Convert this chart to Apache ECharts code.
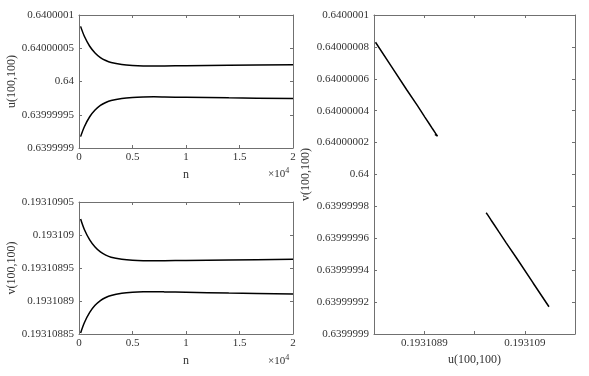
<!DOCTYPE html>
<html lang="en">
<head>
    <meta charset="UTF-8">
    <title>u v 收敛</title>
    <style>
        body{ margin:0; background:#fff; }
        #chart{ width:589px; height:376px; }
    </style>
</head>
<body>
<div id="chart"></div>
<script src="https://cdn.jsdelivr.net/npm/echarts@6/dist/echarts.min.js"></script>
<script>
    // 迭代步数
    var nList = [150, 500, 1000, 1500, 2000, 2500, 3000, 4000, 5000, 6000, 7000, 8000, 10000, 14000, 20000];
    // u(100,100) 上下两条
    var uUpper = [0.6400000829, 0.640000068, 0.640000053, 0.640000043, 0.640000036, 0.6400000315, 0.6400000285,
        0.6400000255, 0.640000024, 0.6400000233, 0.6400000232, 0.6400000234, 0.6400000238, 0.6400000244, 0.6400000251];
    var uLower = [0.6399999171, 0.639999932, 0.639999947, 0.639999957, 0.639999964, 0.6399999685, 0.6399999715,
        0.6399999745, 0.639999976, 0.6399999767, 0.6399999769, 0.6399999767, 0.6399999762, 0.6399999754, 0.6399999745];
    // v(100,100) 上下两条
    var vUpper = [0.1931090241, 0.1931090083, 0.1931089925, 0.1931089817, 0.1931089743, 0.1931089696, 0.1931089664,
        0.1931089633, 0.1931089616, 0.1931089609, 0.1931089608, 0.193108961, 0.1931089615, 0.1931089622, 0.1931089633];
    var vLower = [0.1931088515, 0.1931088671, 0.1931088827, 0.1931088934, 0.1931089006, 0.1931089053, 0.1931089084,
        0.1931089116, 0.1931089132, 0.1931089139, 0.193108914, 0.1931089138, 0.1931089132, 0.193108912, 0.1931089106];
    // 刻度标签
    var nTicks = ['0', '0.5', '1', '1.5', '2'];
    var uTicks = ['0.6399999', '0.63999995', '0.64', '0.64000005', '0.6400001'];
    var vTicks = ['0.19310885', '0.1931089', '0.19310895', '0.193109', '0.19310905'];
    var uTicksFine = ['0.6399999', '0.63999992', '0.63999994', '0.63999996', '0.63999998', '0.64',
        '0.64000002', '0.64000004', '0.64000006', '0.64000008', '0.6400001'];
    var phaseXTicks = ['', '0.1931089', '', '0.193109', ''];

    // 数值很小, 换算成 1e-8 的偏移量再画
    var U0 = 0.64, V0 = 0.193109, UNIT = 1e-8;
    function off(val, base) {
        return Math.round((val - base) / UNIT * 1000) / 1000;
    }

    var axisColor = '#707070';
    var textColor = '#333';
    var font = 'Liberation Serif';

    function mkAxis(grid, pos, min, max, interval, labels, extra) {
        var ax = {
            gridIndex: grid, type: 'value', position: pos,
            min: min, max: max, interval: interval,
            axisLine: {show: true, onZero: false, lineStyle: {color: axisColor, width: 1}},
            axisTick: {show: true, inside: true, length: 3, lineStyle: {color: axisColor}},
            splitLine: {show: false},
            axisLabel: {show: false}
        };
        if (labels) {
            ax.axisLabel = {
                show: true, color: textColor, fontFamily: font, fontSize: 11,
                margin: (pos == 'bottom') ? 4 : 5,
                formatter: function (v) {
                    var i = Math.round((v - min) / interval);
                    return labels[i] == undefined ? '' : labels[i];
                }
            };
        }
        if (extra) {
            for (var k in extra) ax[k] = extra[k];
        }
        return ax;
    }

    function nameStyle() {
        return {color: textColor, fontFamily: font, fontSize: 12};
    }

    function pair(xs, ys, xb, yb) {
        var out = [];
        for (var i = 0; i < xs.length; i++) {
            out.push([off(xs[i], xb), off(ys[i], yb)]);
        }
        return out;
    }
    function series(xs, ys, yb) {
        var out = [];
        for (var i = 0; i < xs.length; i++) {
            out.push([xs[i], off(ys[i], yb)]);
        }
        return out;
    }

    var myChart = echarts.init(document.getElementById('chart'), null, {renderer: 'canvas'});

    var lineStyle = {color: '#000', width: 1.5};
    function line(xi, yi, data) {
        return {type: 'line', xAxisIndex: xi, yAxisIndex: yi, data: data, showSymbol: false,
            lineStyle: lineStyle, smooth: 0.3, animation: false};
    }

    var option = {
        animation: false,
        grid: [
            {left: 79, top: 15, width: 214, height: 133},
            {left: 79, top: 202, width: 214, height: 132},
            {left: 374, top: 15, width: 201, height: 319}
        ],
        xAxis: [
            mkAxis(0, 'bottom', 0, 20000, 5000, nTicks, {name: 'n', nameLocation: 'middle', nameGap: 21, nameTextStyle: nameStyle()}),
            mkAxis(0, 'top', 0, 20000, 5000, null),
            mkAxis(1, 'bottom', 0, 20000, 5000, nTicks, {name: 'n', nameLocation: 'middle', nameGap: 21, nameTextStyle: nameStyle()}),
            mkAxis(1, 'top', 0, 20000, 5000, null),
            mkAxis(2, 'bottom', -15, 5, 5, phaseXTicks, {name: 'u(100,100)', nameLocation: 'middle', nameGap: 18, nameTextStyle: nameStyle()}),
            mkAxis(2, 'top', -15, 5, 5, null)
        ],
        yAxis: [
            mkAxis(0, 'left', -10, 10, 5, uTicks, {name: 'u(100,100)', nameLocation: 'middle', nameGap: 60, nameTextStyle: nameStyle()}),
            mkAxis(0, 'right', -10, 10, 5, null),
            mkAxis(1, 'left', -15, 5, 5, vTicks, {name: 'v(100,100)', nameLocation: 'middle', nameGap: 60, nameTextStyle: nameStyle()}),
            mkAxis(1, 'right', -15, 5, 5, null),
            mkAxis(2, 'left', -10, 10, 2, uTicksFine, {name: 'v(100,100)', nameLocation: 'middle', nameGap: 62, nameTextStyle: nameStyle()}),
            mkAxis(2, 'right', -10, 10, 2, null)
        ],
        graphic: [
            {type: 'text', left: 268, top: 167, style: {
                text: '×10{s|4}', fill: textColor, font: '11px "Liberation Serif"',
                rich: {s: {fontSize: 8, fontFamily: font, fill: textColor, verticalAlign: 'top', padding: [0, 0, 6, 0]}}}},
            {type: 'text', left: 268, top: 354, style: {
                text: '×10{s|4}', fill: textColor, font: '11px "Liberation Serif"',
                rich: {s: {fontSize: 8, fontFamily: font, fill: textColor, verticalAlign: 'top', padding: [0, 0, 6, 0]}}}}
        ],
        series: [
            line(0, 0, series(nList, uUpper, U0)),
            line(0, 0, series(nList, uLower, U0)),
            line(2, 2, series(nList, vUpper, V0)),
            line(2, 2, series(nList, vLower, V0)),
            // 相图: 横轴 v, 纵轴 u
            {type: 'line', xAxisIndex: 4, yAxisIndex: 4, data: pair(vLower, uUpper, V0, U0),
                showSymbol: false, lineStyle: lineStyle, animation: false},
            {type: 'line', xAxisIndex: 4, yAxisIndex: 4, data: pair(vUpper, uLower, V0, U0),
                showSymbol: false, lineStyle: lineStyle, animation: false}
        ]
    };
    myChart.setOption(option);
</script>
</body>
</html>
